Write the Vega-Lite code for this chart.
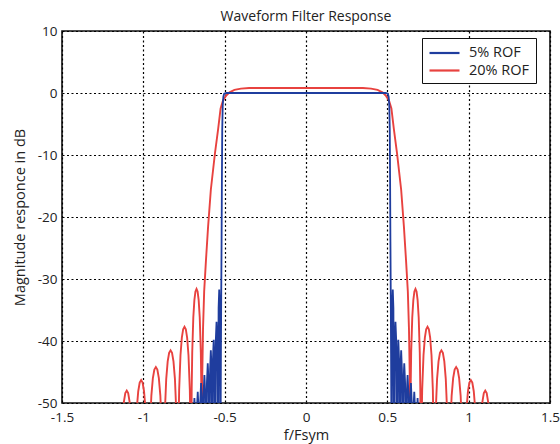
{
  "$schema": "https://vega.github.io/schema/vega-lite/v6.json",
  "width": 488,
  "height": 372,
  "autosize": {"type": "none"},
  "padding": {"left": 62, "top": 31, "right": 10, "bottom": 41},
  "background": "white",
  "title": {"text": "Waveform Filter Response", "fontSize": 14, "font": "Open Sans", "fontWeight": "normal", "color": "#222", "offset": 0},
  "config": {
    "view": {"stroke": "#111", "strokeWidth": 1.6},
    "font": "Open Sans",
    "axis": {"grid": true, "gridColor": "#000", "gridDash": [2, 2.5], "gridWidth": 1.2, "gridOpacity": 1, "domain": false, "ticks": false, "labelFontSize": 13.5, "labelColor": "#222", "titleFontSize": 14.5, "titleFontWeight": "normal", "titleColor": "#222", "labelFlush": false, "labelOverlap": false}
  },
  "datasets": {
    "red": [
      {"s":"20% ROF","f":-1.146,"db":-60},{"s":"20% ROF","f":-1.1284,"db":-52.6},{"s":"20% ROF","f":-1.1196,"db":-49.8},{"s":"20% ROF","f":-1.1108,"db":-48.4},{"s":"20% ROF","f":-1.102,"db":-48.0},{"s":"20% ROF","f":-1.0932,"db":-48.4},{"s":"20% ROF","f":-1.0844,"db":-49.8},{"s":"20% ROF","f":-1.0756,"db":-52.6},{"s":"20% ROF","f":-1.058,"db":-60},
      {"s":"20% ROF","f":-1.0402,"db":-50.9},{"s":"20% ROF","f":-1.0313,"db":-48.1},{"s":"20% ROF","f":-1.0224,"db":-46.7},{"s":"20% ROF","f":-1.0135,"db":-46.3},{"s":"20% ROF","f":-1.0046,"db":-46.7},{"s":"20% ROF","f":-0.9957,"db":-48.1},{"s":"20% ROF","f":-0.9868,"db":-50.9},{"s":"20% ROF","f":-0.969,"db":-60},
      {"s":"20% ROF","f":-0.9506,"db":-48.8},{"s":"20% ROF","f":-0.9414,"db":-46.0},{"s":"20% ROF","f":-0.9322,"db":-44.6},{"s":"20% ROF","f":-0.923,"db":-44.2},{"s":"20% ROF","f":-0.9138,"db":-44.6},{"s":"20% ROF","f":-0.9046,"db":-46.0},{"s":"20% ROF","f":-0.8954,"db":-48.8},{"s":"20% ROF","f":-0.877,"db":-60},
      {"s":"20% ROF","f":-0.8681,"db":-51.7},{"s":"20% ROF","f":-0.8592,"db":-46.1},{"s":"20% ROF","f":-0.8503,"db":-43.3},{"s":"20% ROF","f":-0.8414,"db":-41.9},{"s":"20% ROF","f":-0.8325,"db":-41.5},{"s":"20% ROF","f":-0.8236,"db":-41.9},{"s":"20% ROF","f":-0.8147,"db":-43.3},{"s":"20% ROF","f":-0.8058,"db":-46.1},{"s":"20% ROF","f":-0.7969,"db":-51.7},{"s":"20% ROF","f":-0.788,"db":-60},
      {"s":"20% ROF","f":-0.7798,"db":-47.9},{"s":"20% ROF","f":-0.7716,"db":-42.3},{"s":"20% ROF","f":-0.7634,"db":-39.5},{"s":"20% ROF","f":-0.7552,"db":-38.1},{"s":"20% ROF","f":-0.747,"db":-37.7},{"s":"20% ROF","f":-0.7388,"db":-38.1},{"s":"20% ROF","f":-0.7306,"db":-39.5},{"s":"20% ROF","f":-0.7224,"db":-42.3},{"s":"20% ROF","f":-0.7142,"db":-47.9},{"s":"20% ROF","f":-0.706,"db":-60},
      {"s":"20% ROF","f":-0.7027,"db":-47.7},{"s":"20% ROF","f":-0.6994,"db":-41.8},{"s":"20% ROF","f":-0.6928,"db":-36.2},{"s":"20% ROF","f":-0.6862,"db":-33.4},{"s":"20% ROF","f":-0.6796,"db":-32.0},{"s":"20% ROF","f":-0.673,"db":-31.6},{"s":"20% ROF","f":-0.6664,"db":-32.0},{"s":"20% ROF","f":-0.6598,"db":-33.4},{"s":"20% ROF","f":-0.6532,"db":-36.2},{"s":"20% ROF","f":-0.6466,"db":-41.8},{"s":"20% ROF","f":-0.6433,"db":-47.7},{"s":"20% ROF","f":-0.640,"db":-60},
      {"s":"20% ROF","f":-0.638,"db":-46},{"s":"20% ROF","f":-0.633,"db":-38},{"s":"20% ROF","f":-0.626,"db":-32},{"s":"20% ROF","f":-0.615,"db":-27},{"s":"20% ROF","f":-0.602,"db":-21.6},{"s":"20% ROF","f":-0.585,"db":-15.6},{"s":"20% ROF","f":-0.56,"db":-9.8},{"s":"20% ROF","f":-0.54,"db":-5.8},{"s":"20% ROF","f":-0.525,"db":-2.5},{"s":"20% ROF","f":-0.51,"db":-1.2},{"s":"20% ROF","f":-0.49,"db":-0.4},{"s":"20% ROF","f":-0.47,"db":0.1},{"s":"20% ROF","f":-0.44,"db":0.5},{"s":"20% ROF","f":-0.40,"db":0.7},{"s":"20% ROF","f":-0.35,"db":0.8},{"s":"20% ROF","f":-0.2,"db":0.8},
      {"s":"20% ROF","f":0,"db":0.8},
      {"s":"20% ROF","f":0.2,"db":0.8},{"s":"20% ROF","f":0.35,"db":0.8},{"s":"20% ROF","f":0.40,"db":0.7},{"s":"20% ROF","f":0.44,"db":0.5},{"s":"20% ROF","f":0.47,"db":0.1},{"s":"20% ROF","f":0.49,"db":-0.4},{"s":"20% ROF","f":0.51,"db":-1.2},{"s":"20% ROF","f":0.525,"db":-2.5},{"s":"20% ROF","f":0.54,"db":-5.8},{"s":"20% ROF","f":0.56,"db":-9.8},{"s":"20% ROF","f":0.585,"db":-15.6},{"s":"20% ROF","f":0.602,"db":-21.6},{"s":"20% ROF","f":0.615,"db":-27},{"s":"20% ROF","f":0.626,"db":-32},{"s":"20% ROF","f":0.633,"db":-38},{"s":"20% ROF","f":0.638,"db":-46},
      {"s":"20% ROF","f":0.640,"db":-60},{"s":"20% ROF","f":0.6433,"db":-47.7},{"s":"20% ROF","f":0.6466,"db":-41.8},{"s":"20% ROF","f":0.6532,"db":-36.2},{"s":"20% ROF","f":0.6598,"db":-33.4},{"s":"20% ROF","f":0.6664,"db":-32.0},{"s":"20% ROF","f":0.673,"db":-31.6},{"s":"20% ROF","f":0.6796,"db":-32.0},{"s":"20% ROF","f":0.6862,"db":-33.4},{"s":"20% ROF","f":0.6928,"db":-36.2},{"s":"20% ROF","f":0.6994,"db":-41.8},{"s":"20% ROF","f":0.7027,"db":-47.7},
      {"s":"20% ROF","f":0.706,"db":-60},{"s":"20% ROF","f":0.7142,"db":-47.9},{"s":"20% ROF","f":0.7224,"db":-42.3},{"s":"20% ROF","f":0.7306,"db":-39.5},{"s":"20% ROF","f":0.7388,"db":-38.1},{"s":"20% ROF","f":0.747,"db":-37.7},{"s":"20% ROF","f":0.7552,"db":-38.1},{"s":"20% ROF","f":0.7634,"db":-39.5},{"s":"20% ROF","f":0.7716,"db":-42.3},{"s":"20% ROF","f":0.7798,"db":-47.9},
      {"s":"20% ROF","f":0.788,"db":-60},{"s":"20% ROF","f":0.7969,"db":-51.7},{"s":"20% ROF","f":0.8058,"db":-46.1},{"s":"20% ROF","f":0.8147,"db":-43.3},{"s":"20% ROF","f":0.8236,"db":-41.9},{"s":"20% ROF","f":0.8325,"db":-41.5},{"s":"20% ROF","f":0.8414,"db":-41.9},{"s":"20% ROF","f":0.8503,"db":-43.3},{"s":"20% ROF","f":0.8592,"db":-46.1},{"s":"20% ROF","f":0.8681,"db":-51.7},
      {"s":"20% ROF","f":0.877,"db":-60},{"s":"20% ROF","f":0.8954,"db":-48.8},{"s":"20% ROF","f":0.9046,"db":-46.0},{"s":"20% ROF","f":0.9138,"db":-44.6},{"s":"20% ROF","f":0.923,"db":-44.2},{"s":"20% ROF","f":0.9322,"db":-44.6},{"s":"20% ROF","f":0.9414,"db":-46.0},{"s":"20% ROF","f":0.9506,"db":-48.8},
      {"s":"20% ROF","f":0.969,"db":-60},{"s":"20% ROF","f":0.9868,"db":-50.9},{"s":"20% ROF","f":0.9957,"db":-48.1},{"s":"20% ROF","f":1.0046,"db":-46.7},{"s":"20% ROF","f":1.0135,"db":-46.3},{"s":"20% ROF","f":1.0224,"db":-46.7},{"s":"20% ROF","f":1.0313,"db":-48.1},{"s":"20% ROF","f":1.0402,"db":-50.9},
      {"s":"20% ROF","f":1.058,"db":-60},{"s":"20% ROF","f":1.0756,"db":-52.6},{"s":"20% ROF","f":1.0844,"db":-49.8},{"s":"20% ROF","f":1.0932,"db":-48.4},{"s":"20% ROF","f":1.102,"db":-48.0},{"s":"20% ROF","f":1.1108,"db":-48.4},{"s":"20% ROF","f":1.1196,"db":-49.8},{"s":"20% ROF","f":1.1284,"db":-52.6},{"s":"20% ROF","f":1.146,"db":-60}
    ],
    "blue": [
      {"s":"5% ROF","f":-0.696,"db":-60},{"s":"5% ROF","f":-0.691,"db":-52.2},{"s":"5% ROF","f":-0.686,"db":-49.2},{"s":"5% ROF","f":-0.681,"db":-52.2},{"s":"5% ROF","f":-0.676,"db":-60},
      {"s":"5% ROF","f":-0.6708,"db":-51.2},{"s":"5% ROF","f":-0.6655,"db":-48.2},{"s":"5% ROF","f":-0.6603,"db":-51.2},{"s":"5% ROF","f":-0.655,"db":-60},
      {"s":"5% ROF","f":-0.650,"db":-49.8},{"s":"5% ROF","f":-0.645,"db":-46.8},{"s":"5% ROF","f":-0.640,"db":-49.8},{"s":"5% ROF","f":-0.635,"db":-60},
      {"s":"5% ROF","f":-0.6298,"db":-48.5},{"s":"5% ROF","f":-0.6245,"db":-45.5},{"s":"5% ROF","f":-0.6193,"db":-48.5},{"s":"5% ROF","f":-0.614,"db":-60},
      {"s":"5% ROF","f":-0.609,"db":-46.6},{"s":"5% ROF","f":-0.604,"db":-43.6},{"s":"5% ROF","f":-0.599,"db":-46.6},{"s":"5% ROF","f":-0.594,"db":-60},
      {"s":"5% ROF","f":-0.5895,"db":-44.5},{"s":"5% ROF","f":-0.585,"db":-41.5},{"s":"5% ROF","f":-0.5805,"db":-44.5},{"s":"5% ROF","f":-0.576,"db":-60},
      {"s":"5% ROF","f":-0.5718,"db":-42.8},{"s":"5% ROF","f":-0.5675,"db":-39.8},{"s":"5% ROF","f":-0.5633,"db":-42.8},{"s":"5% ROF","f":-0.559,"db":-60},
      {"s":"5% ROF","f":-0.5545,"db":-39.9},{"s":"5% ROF","f":-0.550,"db":-36.9},{"s":"5% ROF","f":-0.5455,"db":-39.9},{"s":"5% ROF","f":-0.541,"db":-60},
      {"s":"5% ROF","f":-0.5373,"db":-34.7},{"s":"5% ROF","f":-0.5335,"db":-31.7},{"s":"5% ROF","f":-0.5298,"db":-34.7},{"s":"5% ROF","f":-0.526,"db":-60},
      {"s":"5% ROF","f":-0.523,"db":-42},{"s":"5% ROF","f":-0.521,"db":-32},{"s":"5% ROF","f":-0.519,"db":-24},{"s":"5% ROF","f":-0.517,"db":-14},{"s":"5% ROF","f":-0.515,"db":-6},{"s":"5% ROF","f":-0.512,"db":-2},{"s":"5% ROF","f":-0.508,"db":-0.6},{"s":"5% ROF","f":-0.503,"db":-0.1},{"s":"5% ROF","f":-0.49,"db":0},
      {"s":"5% ROF","f":0,"db":0},
      {"s":"5% ROF","f":0.49,"db":0},{"s":"5% ROF","f":0.503,"db":-0.1},{"s":"5% ROF","f":0.508,"db":-0.6},{"s":"5% ROF","f":0.512,"db":-2},{"s":"5% ROF","f":0.515,"db":-6},{"s":"5% ROF","f":0.517,"db":-14},{"s":"5% ROF","f":0.519,"db":-24},{"s":"5% ROF","f":0.521,"db":-32},{"s":"5% ROF","f":0.523,"db":-42},
      {"s":"5% ROF","f":0.526,"db":-60},{"s":"5% ROF","f":0.5298,"db":-34.7},{"s":"5% ROF","f":0.5335,"db":-31.7},{"s":"5% ROF","f":0.5373,"db":-34.7},
      {"s":"5% ROF","f":0.541,"db":-60},{"s":"5% ROF","f":0.5455,"db":-39.9},{"s":"5% ROF","f":0.550,"db":-36.9},{"s":"5% ROF","f":0.5545,"db":-39.9},
      {"s":"5% ROF","f":0.559,"db":-60},{"s":"5% ROF","f":0.5633,"db":-42.8},{"s":"5% ROF","f":0.5675,"db":-39.8},{"s":"5% ROF","f":0.5718,"db":-42.8},
      {"s":"5% ROF","f":0.576,"db":-60},{"s":"5% ROF","f":0.5805,"db":-44.5},{"s":"5% ROF","f":0.585,"db":-41.5},{"s":"5% ROF","f":0.5895,"db":-44.5},
      {"s":"5% ROF","f":0.594,"db":-60},{"s":"5% ROF","f":0.599,"db":-46.6},{"s":"5% ROF","f":0.604,"db":-43.6},{"s":"5% ROF","f":0.609,"db":-46.6},
      {"s":"5% ROF","f":0.614,"db":-60},{"s":"5% ROF","f":0.6193,"db":-48.5},{"s":"5% ROF","f":0.6245,"db":-45.5},{"s":"5% ROF","f":0.6298,"db":-48.5},
      {"s":"5% ROF","f":0.635,"db":-60},{"s":"5% ROF","f":0.640,"db":-49.8},{"s":"5% ROF","f":0.645,"db":-46.8},{"s":"5% ROF","f":0.650,"db":-49.8},
      {"s":"5% ROF","f":0.655,"db":-60},{"s":"5% ROF","f":0.6603,"db":-51.2},{"s":"5% ROF","f":0.6655,"db":-48.2},{"s":"5% ROF","f":0.6708,"db":-51.2},
      {"s":"5% ROF","f":0.676,"db":-60},{"s":"5% ROF","f":0.681,"db":-52.2},{"s":"5% ROF","f":0.686,"db":-49.2},{"s":"5% ROF","f":0.691,"db":-52.2},{"s":"5% ROF","f":0.696,"db":-60}
    ]
  },
  "encoding": {
    "x": {"field": "f", "type": "quantitative", "scale": {"domain": [-1.5, 1.5], "nice": false, "zero": false},
      "axis": {"values": [-1.5, -1, -0.5, 0, 0.5, 1, 1.5], "title": "f/Fsym", "labelPadding": 7, "titleY": 36, "titleBaseline": "alphabetic", "labelExpr": "replace(format(datum.value, '~g'), '\u2212', '-')"}},
    "y": {"field": "db", "type": "quantitative", "scale": {"domain": [-50, 10], "nice": false},
      "axis": {"values": [-50, -40, -30, -20, -10, 0, 10], "title": "Magnitude responce in dB", "labelPadding": 5, "titleX": -38, "titleY": 186, "titleAngle": -90, "titleBaseline": "alphabetic", "titleAlign": "center", "labelExpr": "replace(format(datum.value, '~g'), '\u2212', '-')"}},
    "color": {"field": "s", "type": "nominal",
      "scale": {"domain": ["5% ROF", "20% ROF"], "range": ["#1f3d9e", "#e8423f"]},
      "legend": {"title": null, "orient": "none", "legendX": 360, "legendY": 7, "strokeColor": "#111", "fillColor": "white", "padding": 6, "symbolType": "M-1,0L3,0", "symbolSize": 225, "symbolStrokeWidth": 2.2, "labelFontSize": 14.5, "labelOffset": 23, "rowPadding": 1.5, "labelColor": "#222", "labelFont": "Open Sans"}}
  },
  "layer": [
    {"data": {"name": "red"}, "mark": {"type": "line", "clip": true, "strokeWidth": 1.9}},
    {"data": {"name": "blue"}, "mark": {"type": "line", "clip": true, "strokeWidth": 1.8}}
  ]
}
